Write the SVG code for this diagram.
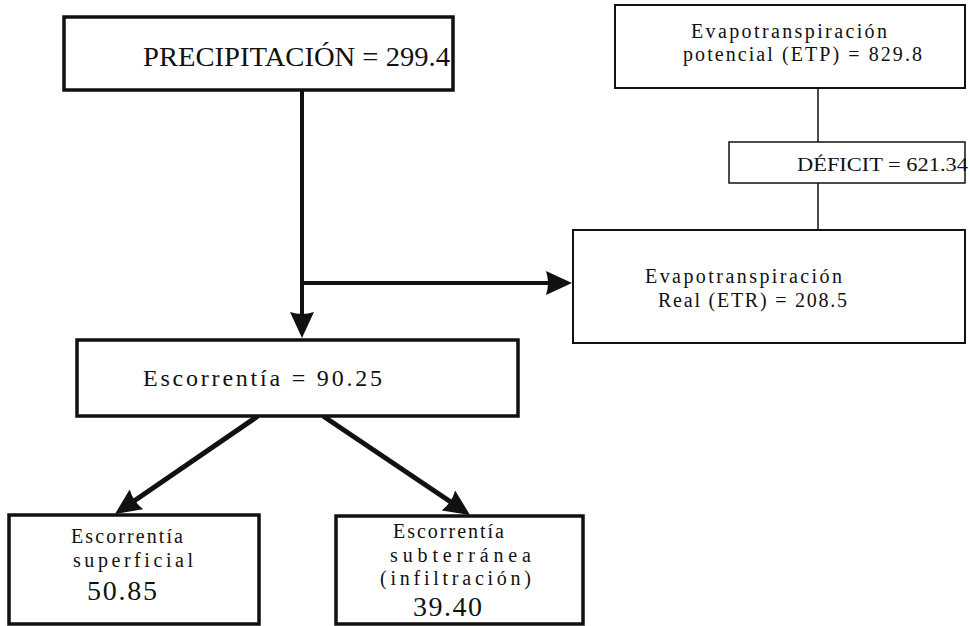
<svg xmlns="http://www.w3.org/2000/svg" width="970" height="626" viewBox="0 0 970 626">
<style>
  .box{fill:#fff;stroke:#111;}
  .thick{stroke-width:3.5;}
  .thin{stroke-width:2;}
  .t{font-family:'Liberation Serif','Times New Roman',Times,serif;fill:#111;}
  .c{stroke:#111;fill:none;}
</style>
<defs>
  <marker id="ah" markerUnits="userSpaceOnUse" markerWidth="28" markerHeight="26" refX="6" refY="12" orient="auto" viewBox="0 0 28 26">
    <path d="M0,0 L26,12 L0,24 Q4,12 0,0 z" fill="#111"/>
  </marker>
</defs>
<rect width="970" height="626" fill="#fff"/>
<g id="connectors">
  <line class="c" x1="302" y1="91" x2="302" y2="318" stroke-width="4" marker-end="url(#ah)"/>
  <line class="c" x1="302" y1="283" x2="552" y2="283" stroke-width="4" marker-end="url(#ah)"/>
  <line class="c" x1="258" y1="416" x2="131.5" y2="502.7" stroke-width="5" marker-end="url(#ah)"/>
  <line class="c" x1="323" y1="416" x2="453.4" y2="503.8" stroke-width="5" marker-end="url(#ah)"/>
  <line class="c" x1="818" y1="88" x2="818" y2="142" stroke-width="1.5"/>
  <line class="c" x1="818" y1="183" x2="818" y2="230" stroke-width="1.5"/>
</g>
<g id="precipitacion" class="t" font-family="Liberation Serif, serif">
  <rect class="box thick" x="64" y="17" width="389" height="73"/>
  <text x="143" y="66" font-size="28" textLength="307" lengthAdjust="spacingAndGlyphs">PRECIPITACIÓN = 299.4</text>
</g>
<g id="etp" class="t" font-family="Liberation Serif, serif">
  <rect class="box thin" x="615" y="5" width="350" height="83"/>
  <text x="691" y="38" font-size="20" textLength="196" lengthAdjust="spacing">Evapotranspiración</text>
  <text x="683" y="61" font-size="20" textLength="239" lengthAdjust="spacing">potencial (ETP) = 829.8</text>
</g>
<g id="deficit" class="t" font-family="Liberation Serif, serif">
  <rect class="box" stroke-width="1.5" x="729" y="142" width="236" height="41"/>
  <text x="797" y="171" font-size="19" textLength="171" lengthAdjust="spacingAndGlyphs">DÉFICIT = 621.34</text>
</g>
<g id="etr" class="t" font-family="Liberation Serif, serif">
  <rect class="box thin" x="573" y="230" width="392" height="113"/>
  <text x="645" y="283" font-size="20" textLength="197" lengthAdjust="spacing">Evapotranspiración</text>
  <text x="658" y="307" font-size="20" textLength="189" lengthAdjust="spacing">Real (ETR) = 208.5</text>
</g>
<g id="escorrentia" class="t" font-family="Liberation Serif, serif">
  <rect class="box thick" x="77" y="340" width="441" height="76"/>
  <text x="143" y="386" font-size="24" textLength="239" lengthAdjust="spacing">Escorrentía  =  90.25</text>
</g>
<g id="superficial" class="t" font-family="Liberation Serif, serif">
  <rect class="box thick" x="9" y="515" width="250" height="109"/>
  <text x="71" y="543" font-size="20" textLength="112" lengthAdjust="spacing">Escorrentía</text>
  <text x="73" y="567" font-size="20" textLength="120" lengthAdjust="spacing">superficial</text>
  <text x="87" y="600" font-size="28" textLength="70" lengthAdjust="spacing">50.85</text>
</g>
<g id="subterranea" class="t" font-family="Liberation Serif, serif">
  <rect class="box thick" x="336" y="516" width="247" height="108"/>
  <text x="393" y="538" font-size="20" textLength="111" lengthAdjust="spacing">Escorrentía</text>
  <text x="390" y="562" font-size="20" textLength="141" lengthAdjust="spacing">subterránea</text>
  <text x="380" y="585" font-size="20" textLength="151" lengthAdjust="spacing">(infiltración)</text>
  <text x="413" y="616" font-size="28" textLength="69" lengthAdjust="spacing">39.40</text>
</g>
</svg>
